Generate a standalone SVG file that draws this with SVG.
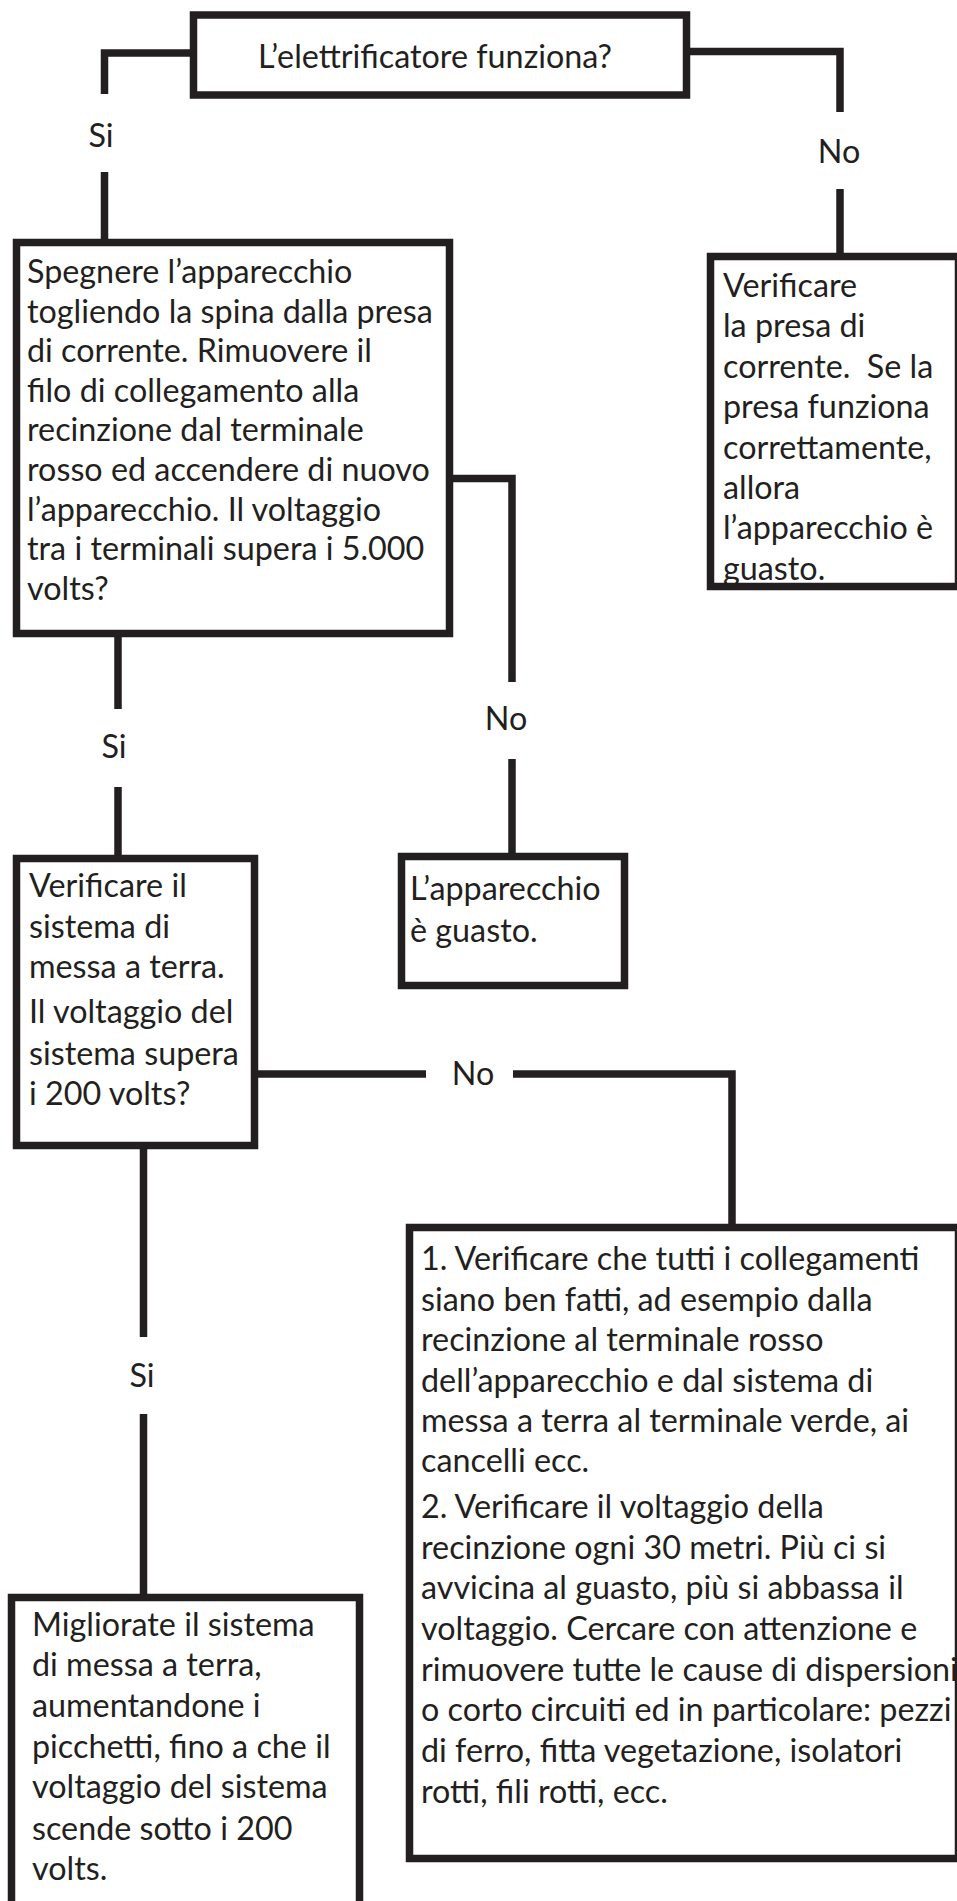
<svg xmlns="http://www.w3.org/2000/svg" width="957" height="1901" viewBox="0 0 957 1901">
<style>
.box{fill:#fff;stroke:#231f20;stroke-width:7.5;stroke-linejoin:miter}
.ln{fill:none;stroke:#231f20;stroke-width:7.5;stroke-linejoin:miter;stroke-linecap:butt}
.t{font-family:Lato,"Open Sans","Liberation Sans",sans-serif;font-size:32.3px;fill:#231f20}
.c{text-anchor:middle}
</style>
<rect width="957" height="1901" fill="#fff"/>
<g id="connectors">
<path class="ln" d="M193,53 H104.5 V94"/>
<path class="ln" d="M104.5,172 V240"/>
<path class="ln" d="M687,51.5 H840 V112"/>
<path class="ln" d="M840,189 V254"/>
<path class="ln" d="M450,478.5 H512 V682"/>
<path class="ln" d="M512,759 V854"/>
<path class="ln" d="M118,637 V709"/>
<path class="ln" d="M118,787 V858"/>
<path class="ln" d="M255,1074 H426"/>
<path class="ln" d="M513,1074 H732 V1225"/>
<path class="ln" d="M143.5,1146 V1337"/>
<path class="ln" d="M143.5,1414 V1595"/>
<text class="t c" x="101" y="147">Si</text>
<text class="t c" x="839" y="163">No</text>
<text class="t c" x="506" y="730">No</text>
<text class="t c" x="114" y="758">Si</text>
<text class="t c" x="473" y="1085">No</text>
<text class="t c" x="142" y="1387">Si</text>
</g>
<g id="n1">
<rect class="box" x="193.5" y="15" width="493" height="80"/>
<text class="t c" x="435" y="68">L’elettrificatore funziona?</text>
</g>
<g id="n2">
<rect class="box" x="16.5" y="242.5" width="433" height="391"/>
<text class="t" x="27">
<tspan x="27" y="283">Spegnere l’apparecchio</tspan>
<tspan x="27" y="322.6">togliendo la spina dalla presa</tspan>
<tspan x="27" y="362.2">di corrente. Rimuovere il</tspan>
<tspan x="27" y="401.8">filo di collegamento alla</tspan>
<tspan x="27" y="441.4">recinzione dal terminale</tspan>
<tspan x="27" y="481">rosso ed accendere di nuovo</tspan>
<tspan x="27" y="520.6">l’apparecchio. Il voltaggio</tspan>
<tspan x="27" y="560.2">tra i terminali supera i 5.000</tspan>
<tspan x="27" y="599.8">volts?</tspan>
</text>
</g>
<g id="n3">
<rect class="box" x="710.5" y="256.5" width="248" height="330"/>
<text class="t" style="white-space:pre">
<tspan x="723" y="297">Verificare</tspan>
<tspan x="723" y="337.4">la presa di</tspan>
<tspan x="723" y="377.8">corrente.  Se la</tspan>
<tspan x="723" y="418.2">presa funziona</tspan>
<tspan x="723" y="458.6">correttamente,</tspan>
<tspan x="723" y="499">allora</tspan>
<tspan x="723" y="539.4">l’apparecchio è</tspan>
<tspan x="723" y="579.8">guasto.</tspan>
</text>
</g>
<g id="n4">
<rect class="box" x="401.5" y="856.5" width="223" height="129"/>
<text class="t">
<tspan x="410" y="900">L’apparecchio</tspan>
<tspan x="410" y="942">è guasto.</tspan>
</text>
</g>
<g id="n5">
<rect class="box" x="16.5" y="858.5" width="238" height="287"/>
<text class="t">
<tspan x="29" y="897">Verificare il</tspan>
<tspan x="29" y="938">sistema di</tspan>
<tspan x="29" y="978">messa a terra.</tspan>
<tspan x="29" y="1023">Il voltaggio del</tspan>
<tspan x="29" y="1065">sistema supera</tspan>
<tspan x="29" y="1105">i 200 volts?</tspan>
</text>
</g>
<g id="n6">
<rect class="box" x="409.5" y="1227.5" width="549" height="631"/>
<text class="t">
<tspan x="421" y="1270">1. Verificare che tutti i collegamenti</tspan>
<tspan x="421" y="1310.5">siano ben fatti, ad esempio dalla</tspan>
<tspan x="421" y="1351">recinzione al terminale rosso</tspan>
<tspan x="421" y="1391.5">dell’apparecchio e dal sistema di</tspan>
<tspan x="421" y="1432">messa a terra al terminale verde, ai</tspan>
<tspan x="421" y="1472">cancelli ecc.</tspan>
<tspan x="421" y="1518">2. Verificare il voltaggio della</tspan>
<tspan x="421" y="1558.5">recinzione ogni 30 metri. Più ci si</tspan>
<tspan x="421" y="1599">avvicina al guasto, più si abbassa il</tspan>
<tspan x="421" y="1640">voltaggio. Cercare con attenzione e</tspan>
<tspan x="421" y="1680.5">rimuovere tutte le cause di dispersioni</tspan>
<tspan x="421" y="1721">o corto circuiti ed in particolare: pezzi</tspan>
<tspan x="421" y="1762">di ferro, fitta vegetazione, isolatori</tspan>
<tspan x="421" y="1802.5">rotti, fili rotti, ecc.</tspan>
</text>
</g>
<g id="n7">
<rect class="box" x="11.5" y="1597.5" width="348" height="330"/>
<text class="t">
<tspan x="32" y="1636">Migliorate il sistema</tspan>
<tspan x="32" y="1676">di messa a terra,</tspan>
<tspan x="32" y="1717">aumentandone i</tspan>
<tspan x="32" y="1758">picchetti, fino a che il</tspan>
<tspan x="32" y="1798">voltaggio del sistema</tspan>
<tspan x="32" y="1840">scende sotto i 200</tspan>
<tspan x="32" y="1880">volts.</tspan>
</text>
</g>
</svg>
